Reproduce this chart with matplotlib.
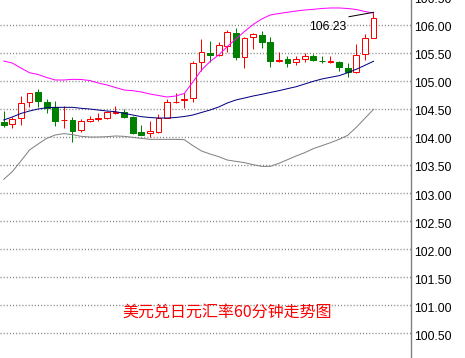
import matplotlib
matplotlib.use("Agg")
import matplotlib.pyplot as plt
from matplotlib.patches import Rectangle
from matplotlib import transforms

# ---- data (USD/JPY 60-minute candles) ----
opens = [104.268,104.226,104.333,104.619,104.804,104.625,104.530,104.298,104.304,104.119,104.280,104.321,104.333,104.429,104.440,104.363,104.089,104.065,104.089,104.339,104.619,104.655,104.690,105.345,105.500,105.458,105.631,105.857,105.423,105.780,105.815,105.696,105.357,105.387,105.333,105.393,105.440,105.363,105.339,105.339,105.232,105.155,105.476,105.762]
closes = [104.220,104.321,104.601,104.780,104.649,104.518,104.280,104.310,104.113,104.286,104.321,104.339,104.446,104.440,104.363,104.077,104.042,104.107,104.333,104.619,104.631,104.673,105.315,105.512,105.458,105.637,105.869,105.435,105.762,105.839,105.702,105.363,105.369,105.315,105.387,105.440,105.381,105.351,105.351,105.256,105.161,105.458,105.762,106.119]
highs = [104.464,104.363,104.732,104.786,104.863,104.679,104.643,104.554,104.351,104.321,104.369,104.423,104.464,104.554,104.500,104.369,104.208,104.292,104.405,104.679,104.780,104.780,105.357,105.744,105.708,105.696,105.911,105.946,105.780,105.857,105.887,105.792,105.524,105.446,105.452,105.494,105.482,105.440,105.446,105.357,105.321,105.661,105.839,106.226]
lows = [104.185,104.155,104.220,104.530,104.542,104.435,104.202,104.167,103.917,104.095,104.274,104.292,104.315,104.405,104.345,104.054,104.042,103.994,104.065,104.333,104.613,104.524,104.631,105.185,105.339,105.446,105.518,105.375,105.238,105.577,105.595,105.256,105.333,105.256,105.292,105.339,105.357,105.315,105.315,105.173,105.065,105.137,105.375,105.762]

upper_band = [105.357,105.321,105.232,105.148,105.116,105.062,105.018,105.018,105.030,105.027,105.009,104.964,104.929,104.884,104.839,104.827,104.804,104.768,104.741,104.714,104.732,104.777,104.982,105.196,105.348,105.464,105.616,105.750,105.884,106.009,106.107,106.179,106.205,106.227,106.250,106.268,106.280,106.295,106.304,106.304,106.295,106.277,106.241,106.214]
middle_band = [104.304,104.357,104.420,104.464,104.500,104.523,104.530,104.530,104.530,104.512,104.500,104.482,104.464,104.452,104.423,104.393,104.363,104.348,104.339,104.339,104.348,104.366,104.393,104.438,104.482,104.536,104.607,104.661,104.696,104.732,104.762,104.795,104.827,104.863,104.898,104.946,104.994,105.036,105.066,105.095,105.148,105.209,105.280,105.352]
lower_band = [103.244,103.381,103.571,103.768,103.875,103.976,104.036,104.060,104.042,104.012,104.000,104.000,104.006,104.018,104.012,103.994,103.976,103.958,103.958,103.958,103.958,103.952,103.845,103.750,103.696,103.649,103.589,103.565,103.542,103.506,103.476,103.476,103.530,103.595,103.661,103.720,103.792,103.845,103.899,103.958,104.030,104.173,104.333,104.494]

ytick_values = [100.5, 101.0, 101.5, 102.0, 102.5, 103.0, 103.5, 104.0, 104.5, 105.0, 105.5, 106.0, 106.5]
title_text = "美元兑日元汇率60分钟走势图"
price_label = "106.23"

UP = "#ff0000"
DOWN = "#008000"
PX = 72.0 / 100.0  # one pixel in points

fig = plt.figure(figsize=(4.65, 3.58), dpi=100)
fig.patch.set_facecolor("white")
ax = fig.add_axes([0, 0, 411 / 465, 1])
ax.set_facecolor("white")

n = len(opens)
xs = list(range(1, n + 1))
ax.set_xlim(0.57, 0.57 + 411 / 8.6)
ax.set_ylim(100.0536, 106.4464)

# grid
for v in ytick_values:
    ax.axhline(v, color="#808080", lw=1.0, ls=(0, (0.75, 1.5)), zorder=1)

# candles
bw = 0.66
for x, o, h, l, c in zip(xs, opens, highs, lows, closes):
    up = c >= o
    col = UP if up else DOWN
    ax.vlines(x, l, h, color=col, lw=PX, zorder=2)
    bottom = min(o, c)
    height = max(abs(c - o), 0.004)
    ax.add_patch(Rectangle((x - bw / 2, bottom), bw, height,
                           facecolor="white" if up else DOWN,
                           edgecolor=col, lw=PX, zorder=3))

# Bollinger bands
ax.plot(xs, upper_band, color="#ff00ff", lw=PX, zorder=4)
ax.plot(xs, middle_band, color="#000080", lw=PX, zorder=4)
ax.plot(xs, lower_band, color="#808080", lw=PX, zorder=4)

# high marker
ax.plot([n - 2.85, n], [highs[-1] - 0.078, highs[-1]], color="black", lw=PX, zorder=5)
ax.text(n - 3.1, highs[-1] - 0.27, price_label, ha="right", va="center",
        fontsize=8.8, family="Liberation Sans", color="black", zorder=6)

# spines / axis
for s in ["top", "bottom", "left"]:
    ax.spines[s].set_visible(False)
ax.spines["right"].set_color("#808080")
ax.spines["right"].set_linewidth(1.0)
ax.set_xticks([])
ax.set_yticks([])

trans = transforms.blended_transform_factory(ax.transAxes, ax.transData)
trans = transforms.offset_copy(trans, fig=fig, x=3, y=-3.5, units="dots")
for v in ytick_values:
    ax.text(1.0, v, f"{v:.2f}", transform=trans, ha="left", va="center",
            fontsize=8.8, family="Liberation Sans", color="black", clip_on=False)

ax.text(227 / 411, 46 / 358, title_text, transform=ax.transAxes, ha="center", va="center",
        fontsize=11.5, family=["Noto Sans CJK SC", "DejaVu Sans"], color="#ff0000")

fig.savefig("out.png", dpi=100)
